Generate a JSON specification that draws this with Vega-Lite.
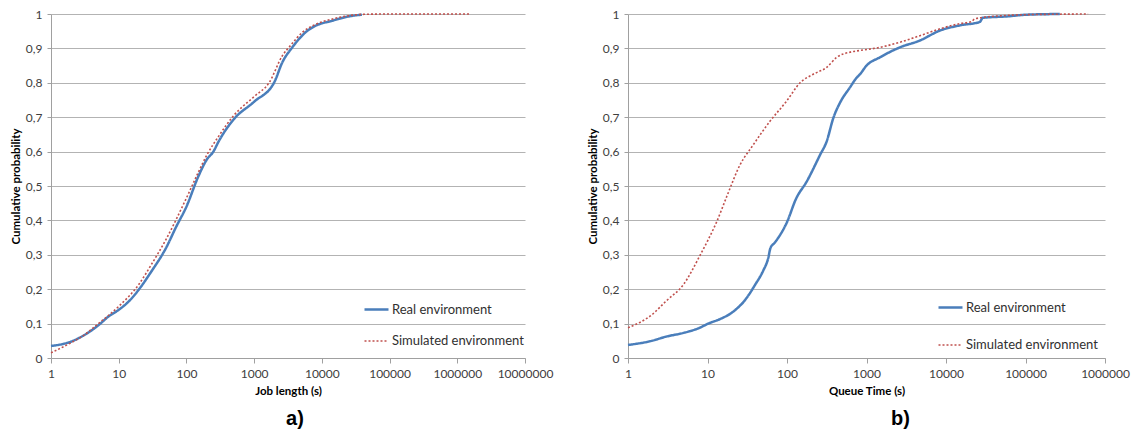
{
  "$schema": "https://vega.github.io/schema/vega-lite/v6.json",
  "background": "white",
  "padding": {"left": 10, "top": 8, "right": 5, "bottom": 4},
  "spacing": 34,
  "config": {
    "view": {"stroke": null},
    "font": "Lato",
    "axis": {
      "labelFont": "Lato", "labelFontSize": 12, "labelColor": "#404040",
      "titleFont": "Lato", "titleFontSize": 11.5, "titleFontWeight": "bold", "titleColor": "#000000",
      "domainColor": "#a0a0a0", "tickColor": "#a0a0a0", "gridColor": "#b3b3b3", "gridWidth": 1, "gridOpacity": 1,
      "labelOverlap": false, "labelFlush": false, "labelBound": false
    },
    "legend": {"labelFont": "Lato", "labelFontSize": 13, "labelColor": "#303030"},
    "title": {"font": "Liberation Sans", "fontSize": 20, "fontWeight": "bold", "color": "#000000", "orient": "bottom"}
  },
  "resolve": {"scale": {"color": "independent", "strokeDash": "independent", "strokeWidth": "independent"}, "legend": {"color": "independent", "strokeDash": "independent"}},
  "hconcat": [
    {
      "width": 474, "height": 344,
      "title": {"text": "a)", "offset": 12, "dx": 7},
      "data": {"values": [
        {"series": "Real environment", "x": 1, "y": 0.035},
        {"series": "Real environment", "x": 2, "y": 0.048},
        {"series": "Real environment", "x": 3, "y": 0.065},
        {"series": "Real environment", "x": 5, "y": 0.095},
        {"series": "Real environment", "x": 7, "y": 0.12},
        {"series": "Real environment", "x": 10, "y": 0.14},
        {"series": "Real environment", "x": 15, "y": 0.17},
        {"series": "Real environment", "x": 20, "y": 0.2},
        {"series": "Real environment", "x": 30, "y": 0.25},
        {"series": "Real environment", "x": 50, "y": 0.32},
        {"series": "Real environment", "x": 70, "y": 0.38},
        {"series": "Real environment", "x": 100, "y": 0.44},
        {"series": "Real environment", "x": 150, "y": 0.528},
        {"series": "Real environment", "x": 200, "y": 0.577},
        {"series": "Real environment", "x": 250, "y": 0.6},
        {"series": "Real environment", "x": 300, "y": 0.63},
        {"series": "Real environment", "x": 500, "y": 0.694},
        {"series": "Real environment", "x": 1000, "y": 0.745},
        {"series": "Real environment", "x": 2000, "y": 0.803},
        {"series": "Real environment", "x": 2600, "y": 0.859},
        {"series": "Real environment", "x": 3660, "y": 0.903},
        {"series": "Real environment", "x": 6100, "y": 0.951},
        {"series": "Real environment", "x": 8100, "y": 0.966},
        {"series": "Real environment", "x": 14000, "y": 0.98},
        {"series": "Real environment", "x": 25000, "y": 0.993},
        {"series": "Real environment", "x": 39000, "y": 0.998},
        {"series": "Simulated environment", "x": 1, "y": 0.015},
        {"series": "Simulated environment", "x": 2, "y": 0.045},
        {"series": "Simulated environment", "x": 3, "y": 0.065},
        {"series": "Simulated environment", "x": 5, "y": 0.1},
        {"series": "Simulated environment", "x": 10, "y": 0.15},
        {"series": "Simulated environment", "x": 20, "y": 0.215},
        {"series": "Simulated environment", "x": 30, "y": 0.27},
        {"series": "Simulated environment", "x": 50, "y": 0.345},
        {"series": "Simulated environment", "x": 100, "y": 0.465},
        {"series": "Simulated environment", "x": 150, "y": 0.54},
        {"series": "Simulated environment", "x": 200, "y": 0.59},
        {"series": "Simulated environment", "x": 300, "y": 0.645},
        {"series": "Simulated environment", "x": 500, "y": 0.705},
        {"series": "Simulated environment", "x": 1000, "y": 0.76},
        {"series": "Simulated environment", "x": 1660, "y": 0.8},
        {"series": "Simulated environment", "x": 2600, "y": 0.878},
        {"series": "Simulated environment", "x": 3500, "y": 0.91},
        {"series": "Simulated environment", "x": 5100, "y": 0.946},
        {"series": "Simulated environment", "x": 8100, "y": 0.97},
        {"series": "Simulated environment", "x": 14000, "y": 0.985},
        {"series": "Simulated environment", "x": 25000, "y": 0.995},
        {"series": "Simulated environment", "x": 40000, "y": 0.999},
        {"series": "Simulated environment", "x": 100000, "y": 1.0},
        {"series": "Simulated environment", "x": 1500000, "y": 1.0}
      ]},
      "mark": {"type": "line", "interpolate": "monotone", "strokeCap": "butt"},
      "encoding": {
        "x": {"field": "x", "type": "quantitative",
          "scale": {"type": "log", "domain": [1, 10000000]},
          "axis": {"values": [1, 10, 100, 1000, 10000, 100000, 1000000, 10000000], "format": "d", "grid": false, "tickSize": 5, "labelPadding": 5, "titlePadding": 6, "title": "Job length (s)"}},
        "y": {"field": "y", "type": "quantitative",
          "scale": {"domain": [0, 1]},
          "axis": {"values": [0, 0.1, 0.2, 0.3, 0.4, 0.5, 0.6, 0.7, 0.8, 0.9, 1], "grid": true, "labelExpr": "replace(format(datum.value, '.1~f'), '.', ',')", "tickSize": 4, "labelPadding": 5, "titlePadding": 4, "title": "Cumulative probability"}},
        "color": {"field": "series", "type": "nominal",
          "scale": {"domain": ["Real environment", "Simulated environment"], "range": ["#4a7ebb", "#c0504d"]},
          "legend": {"title": null, "orient": "none", "legendX": 312, "legendY": 282, "symbolType": "stroke", "symbolSize": 576, "symbolStrokeWidth": 2, "rowPadding": 11, "labelOffset": 2}},
        "strokeDash": {"field": "series", "type": "nominal",
          "scale": {"domain": ["Real environment", "Simulated environment"], "range": [[1, 0], [2, 2]]},
          "legend": {"title": null, "orient": "none", "legendX": 312, "legendY": 282, "symbolType": "stroke", "symbolSize": 576, "symbolStrokeWidth": 2, "rowPadding": 11, "labelOffset": 2}},
        "strokeWidth": {"field": "series", "type": "nominal",
          "scale": {"domain": ["Real environment", "Simulated environment"], "range": [2.5, 1.6]},
          "legend": null}
      }
    },
    {
      "width": 477, "height": 344,
      "title": {"text": "b)", "offset": 12, "dx": 34},
      "data": {"values": [
        {"series": "Real environment", "x": 1, "y": 0.038},
        {"series": "Real environment", "x": 2, "y": 0.05},
        {"series": "Real environment", "x": 3, "y": 0.062},
        {"series": "Real environment", "x": 5, "y": 0.073},
        {"series": "Real environment", "x": 8, "y": 0.088},
        {"series": "Real environment", "x": 10, "y": 0.099},
        {"series": "Real environment", "x": 15, "y": 0.115},
        {"series": "Real environment", "x": 20, "y": 0.131},
        {"series": "Real environment", "x": 30, "y": 0.17},
        {"series": "Real environment", "x": 40, "y": 0.214},
        {"series": "Real environment", "x": 50, "y": 0.253},
        {"series": "Real environment", "x": 58, "y": 0.29},
        {"series": "Real environment", "x": 62, "y": 0.32},
        {"series": "Real environment", "x": 70, "y": 0.335},
        {"series": "Real environment", "x": 100, "y": 0.395},
        {"series": "Real environment", "x": 130, "y": 0.463},
        {"series": "Real environment", "x": 177, "y": 0.513},
        {"series": "Real environment", "x": 260, "y": 0.59},
        {"series": "Real environment", "x": 316, "y": 0.63},
        {"series": "Real environment", "x": 383, "y": 0.698},
        {"series": "Real environment", "x": 464, "y": 0.742},
        {"series": "Real environment", "x": 617, "y": 0.786},
        {"series": "Real environment", "x": 753, "y": 0.815},
        {"series": "Real environment", "x": 829, "y": 0.825},
        {"series": "Real environment", "x": 1000, "y": 0.85},
        {"series": "Real environment", "x": 1475, "y": 0.874},
        {"series": "Real environment", "x": 2630, "y": 0.903},
        {"series": "Real environment", "x": 4700, "y": 0.923},
        {"series": "Real environment", "x": 8400, "y": 0.952},
        {"series": "Real environment", "x": 15000, "y": 0.967},
        {"series": "Real environment", "x": 26700, "y": 0.977},
        {"series": "Real environment", "x": 29000, "y": 0.989},
        {"series": "Real environment", "x": 58000, "y": 0.993},
        {"series": "Real environment", "x": 103000, "y": 0.998},
        {"series": "Real environment", "x": 270000, "y": 1.0},
        {"series": "Simulated environment", "x": 1, "y": 0.088},
        {"series": "Simulated environment", "x": 2, "y": 0.126},
        {"series": "Simulated environment", "x": 3, "y": 0.165},
        {"series": "Simulated environment", "x": 5, "y": 0.214},
        {"series": "Simulated environment", "x": 8, "y": 0.297},
        {"series": "Simulated environment", "x": 10, "y": 0.34},
        {"series": "Simulated environment", "x": 13, "y": 0.395},
        {"series": "Simulated environment", "x": 17.5, "y": 0.47},
        {"series": "Simulated environment", "x": 25.6, "y": 0.561},
        {"series": "Simulated environment", "x": 37.7, "y": 0.62},
        {"series": "Simulated environment", "x": 61, "y": 0.688},
        {"series": "Simulated environment", "x": 99, "y": 0.747},
        {"series": "Simulated environment", "x": 146, "y": 0.8},
        {"series": "Simulated environment", "x": 214, "y": 0.825},
        {"series": "Simulated environment", "x": 316, "y": 0.845},
        {"series": "Simulated environment", "x": 422, "y": 0.874},
        {"series": "Simulated environment", "x": 617, "y": 0.889},
        {"series": "Simulated environment", "x": 830, "y": 0.894},
        {"series": "Simulated environment", "x": 1475, "y": 0.903},
        {"series": "Simulated environment", "x": 2630, "y": 0.918},
        {"series": "Simulated environment", "x": 4700, "y": 0.937},
        {"series": "Simulated environment", "x": 8400, "y": 0.957},
        {"series": "Simulated environment", "x": 15000, "y": 0.972},
        {"series": "Simulated environment", "x": 21000, "y": 0.978},
        {"series": "Simulated environment", "x": 23000, "y": 0.986},
        {"series": "Simulated environment", "x": 50000, "y": 0.995},
        {"series": "Simulated environment", "x": 100000, "y": 0.998},
        {"series": "Simulated environment", "x": 613000, "y": 1.0}
      ]},
      "mark": {"type": "line", "interpolate": "monotone", "strokeCap": "butt"},
      "encoding": {
        "x": {"field": "x", "type": "quantitative",
          "scale": {"type": "log", "domain": [1, 1000000]},
          "axis": {"values": [1, 10, 100, 1000, 10000, 100000, 1000000], "format": "d", "grid": false, "tickSize": 5, "labelPadding": 5, "titlePadding": 6, "title": "Queue Time (s)"}},
        "y": {"field": "y", "type": "quantitative",
          "scale": {"domain": [0, 1]},
          "axis": {"values": [0, 0.1, 0.2, 0.3, 0.4, 0.5, 0.6, 0.7, 0.8, 0.9, 1], "grid": true, "labelExpr": "replace(format(datum.value, '.1~f'), '.', ',')", "tickSize": 4, "labelPadding": 5, "titlePadding": 4, "title": "Cumulative probability"}},
        "color": {"field": "series", "type": "nominal",
          "scale": {"domain": ["Real environment", "Simulated environment"], "range": ["#4a7ebb", "#c0504d"]},
          "legend": {"title": null, "orient": "none", "legendX": 309, "legendY": 280, "symbolType": "stroke", "symbolSize": 576, "symbolStrokeWidth": 2, "rowPadding": 17, "labelOffset": 2}},
        "strokeDash": {"field": "series", "type": "nominal",
          "scale": {"domain": ["Real environment", "Simulated environment"], "range": [[1, 0], [2, 2]]},
          "legend": {"title": null, "orient": "none", "legendX": 309, "legendY": 280, "symbolType": "stroke", "symbolSize": 576, "symbolStrokeWidth": 2, "rowPadding": 17, "labelOffset": 2}},
        "strokeWidth": {"field": "series", "type": "nominal",
          "scale": {"domain": ["Real environment", "Simulated environment"], "range": [2.5, 1.6]},
          "legend": null}
      }
    }
  ]
}
